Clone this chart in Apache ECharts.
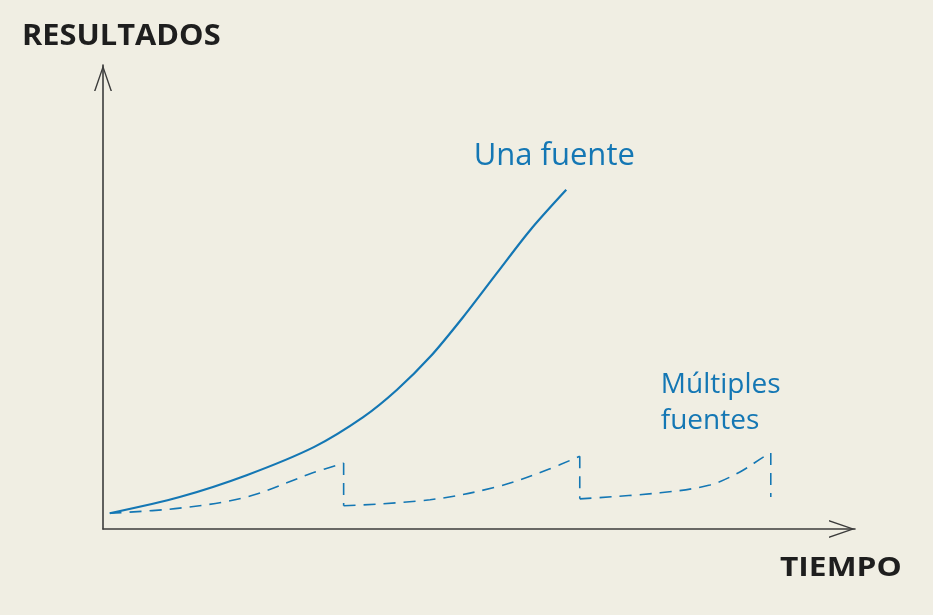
<!DOCTYPE html>
<html><head><meta charset="utf-8">
<script src="https://cdn.jsdelivr.net/npm/echarts@6/dist/echarts.min.js"></script>
<style>html,body{margin:0;padding:0;background:#f0eee3}#c{width:933px;height:615px}</style>
</head><body><div id="c"></div>
<script>
// Axis titles
const xTitle = 'TIEMPO';
const yTitle = 'RESULTADOS';
// Series names
const singleName = 'Una fuente';
const multiName = 'Múltiples\nfuentes';
// "Una fuente" curve (time, results)
const singleX = [0.9, 10.2, 19.1, 28.1, 34.6, 39.1, 43.5, 47.9, 52.4, 56.8, 61.6];
const singleY = [3.4, 6.9, 11.6, 17.7, 24.1, 30.0, 37.1, 45.7, 55.2, 64.4, 73.1];
// "Múltiples fuentes" segments
const multi1X = [0.9, 10.2, 19.1, 27.9, 32.0];
const multi1Y = [3.4, 4.5, 6.9, 12.1, 14.2];
const multi2X = [32.0, 43.5, 52.4, 59.0, 63.4];
const multi2Y = [5.0, 6.3, 9.1, 12.7, 15.7];
const multi3X = [63.4, 74.1, 80.7, 84.7, 87.8, 88.8];
const multi3Y = [6.5, 7.8, 9.5, 12.3, 15.5, 16.4];
// Drops when switching source
const dropX = [32.0, 63.4, 88.8];
const dropTopY = [14.2, 15.7, 16.4];
const dropBottomY = [5.0, 6.5, 6.9];

const BLUE = '#1477b4';
const AXIS = '#3c3c3c';
const zip = (xs, ys) => xs.map((x, i) => [x, ys[i]]);
// open chevron arrow, tip at symbol centre
const chevron = 'path://M9,-26 L9.01,-26 L9,-26 Z M0,26 L9,0 L18,26 L16.5,26 L9,4 L1.5,26 Z';

const dashStyle = { color: BLUE, width: 1.6, type: [12, 8] };
const multiSegs = [[multi1X, multi1Y], [multi2X, multi2Y], [multi3X, multi3Y]];
const series = [];
series.push({
  type: 'line', name: singleName, data: zip(singleX, singleY), smooth: 0.3,
  showSymbol: false, symbol: 'none', lineStyle: { color: BLUE, width: 2.2 },
  endLabel: { show: true, formatter: singleName, color: BLUE, fontFamily: 'Open Sans', fontSize: 31,
    offset: [-20, -34], align: 'center', verticalAlign: 'middle' }
});
multiSegs.forEach(([xs, ys], i) => {
  const s = {
    type: 'line', name: multiName, data: zip(xs, ys), smooth: 0.35,
    showSymbol: false, symbol: 'none', lineStyle: dashStyle
  };
  if (i === multiSegs.length - 1) {
    s.endLabel = { show: true, formatter: multiName, color: BLUE, fontFamily: 'Open Sans', fontSize: 28,
      lineHeight: 36, offset: [-118, -50], align: 'left', verticalAlign: 'middle' };
  }
  series.push(s);
});
dropX.forEach((x, i) => {
  series.push({
    type: 'line', name: multiName, data: [[x, dropTopY[i]], [x, dropBottomY[i]]],
    showSymbol: false, symbol: 'none', lineStyle: dashStyle
  });
});

const chart = echarts.init(document.getElementById('c'), null, { renderer: 'canvas' });
chart.setOption({
  backgroundColor: '#f0eee3',
  animation: false,
  grid: { left: 103, right: 78, top: 65, bottom: 86 },
  xAxis: {
    type: 'value', min: 0, max: 100,
    axisLine: { show: true, lineStyle: { color: AXIS, width: 1.6 }, symbol: ['none', chevron], symbolSize: [18, 52] },
    axisTick: { show: false }, axisLabel: { show: false }, splitLine: { show: false }
  },
  yAxis: {
    type: 'value', min: 0, max: 100,
    axisLine: { show: true, lineStyle: { color: AXIS, width: 1.6 }, symbol: ['none', chevron], symbolSize: [18, 52] },
    axisTick: { show: false }, axisLabel: { show: false }, splitLine: { show: false }
  },
  graphic: [
    { type: 'text', x: 22, y: 37, scaleX: 1.1, style: { text: yTitle, font: 'bold 28px "Open Sans"', fill: '#1e1e1e', textAlign: 'left', textVerticalAlign: 'middle' } },
    { type: 'text', x: 780, y: 569, scaleX: 1.22, style: { text: xTitle, font: 'bold 26px "Open Sans"', fill: '#1e1e1e', textAlign: 'left', textVerticalAlign: 'middle' } }
  ],
  series: series
});
</script>
</body></html>
